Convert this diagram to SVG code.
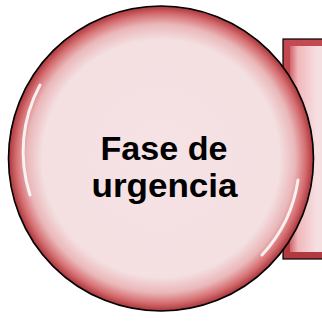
<svg xmlns="http://www.w3.org/2000/svg" width="322" height="322" viewBox="0 0 322 322">
<defs>
<radialGradient id="cg" cx="0.5" cy="0.5" r="0.5">
<stop offset="0" stop-color="#f6e3e5"/>
<stop offset="0.78" stop-color="#f4dfe1"/>
<stop offset="0.88" stop-color="#eab7b9"/>
<stop offset="0.95" stop-color="#d56d70"/>
<stop offset="1" stop-color="#a8353a"/>
</radialGradient>
<linearGradient id="rg" x1="0" y1="0" x2="1" y2="0">
<stop offset="0" stop-color="#d0656a"/>
<stop offset="0.15" stop-color="#f0b8bb"/>
<stop offset="0.5" stop-color="#f6dfe1"/>
</linearGradient>
<linearGradient id="rb" x1="0" y1="0" x2="0" y2="1">
<stop offset="0" stop-color="#c24a50"/>
<stop offset="1" stop-color="#b03a40"/>
</linearGradient>
<style>
.lbl{font-family:"Liberation Sans",Arial,sans-serif;font-weight:bold;font-size:33px;fill:#000;text-anchor:middle}
</style>
</defs>
<g id="box">
<rect x="283" y="39" width="60" height="220" fill="url(#rb)" stroke="#000" stroke-width="1.2"/>
<rect x="290" y="46" width="53" height="206" fill="url(#rg)"/>
</g>
<g id="circle">
<circle cx="161" cy="158.5" r="152.5" fill="url(#cg)" stroke="#000" stroke-width="1.6"/>
<path d="M40,85 A140,140 0 0 0 30,195" fill="none" stroke="#fff" stroke-width="3" stroke-linecap="round" opacity="0.85"/>
<path d="M298,180 A140,140 0 0 1 262,255" fill="none" stroke="#fff" stroke-width="3" stroke-linecap="round" opacity="0.85"/>
<text class="lbl" x="164" y="160" textLength="127" lengthAdjust="spacingAndGlyphs">Fase de</text>
<text class="lbl" x="164.5" y="197" textLength="146" lengthAdjust="spacingAndGlyphs">urgencia</text>
</g>
</svg>
